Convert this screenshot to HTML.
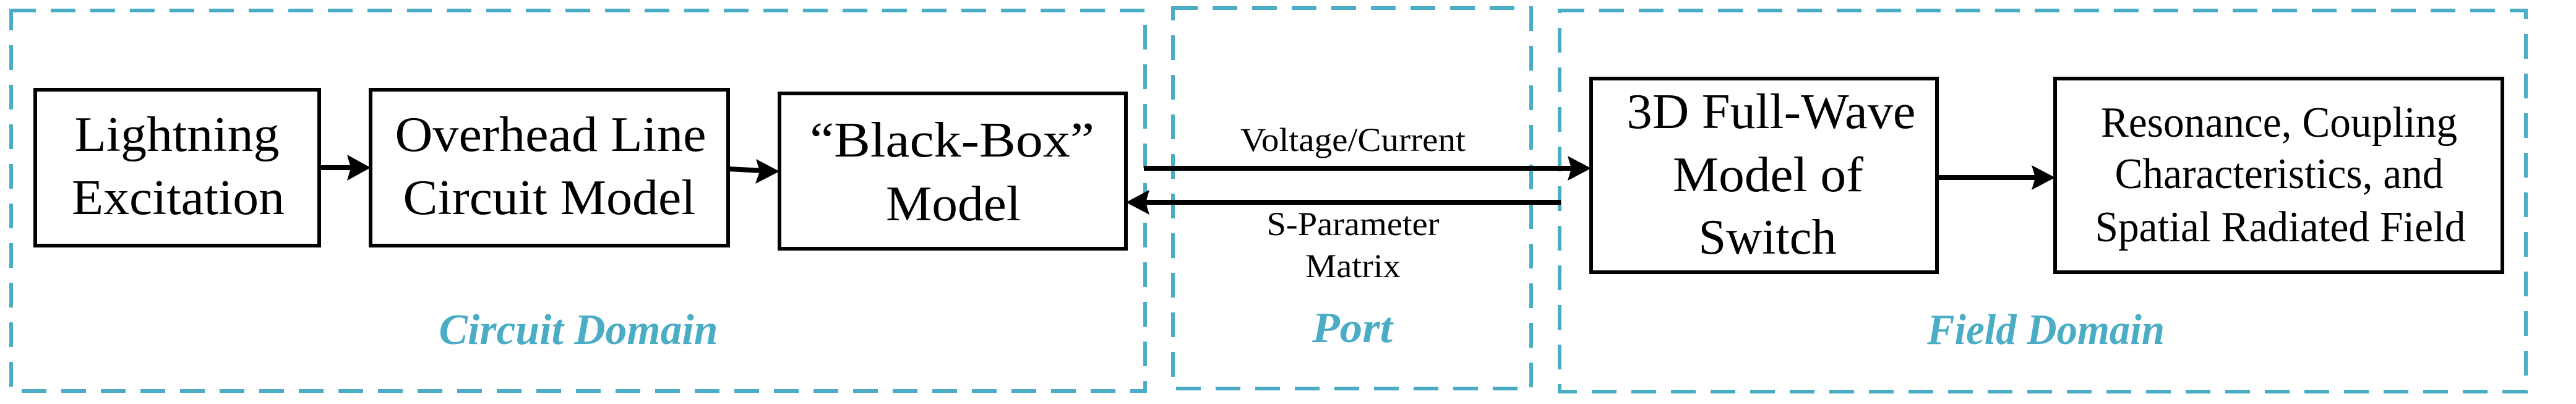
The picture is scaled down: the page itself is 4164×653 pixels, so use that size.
<!DOCTYPE html>
<html><head><meta charset="utf-8"><style>html,body{margin:0;padding:0;background:#fff}svg{display:block}svg text{font-family:"Liberation Serif","DejaVu Serif",serif}</style></head>
<body>
<svg width="4164" height="653" viewBox="0 0 4164 653" xmlns="http://www.w3.org/2000/svg">
<g fill="none" stroke="#4BACC6" stroke-width="6" stroke-dasharray="40 24">
<rect x="18" y="17" width="1833" height="615"/>
<rect x="1896" y="13" width="579" height="615"/>
<rect x="2521" y="17" width="1562" height="616"/>
</g>
<g fill="none" stroke="#000" stroke-width="6">
<rect x="57" y="145" width="459" height="252"/>
<rect x="599" y="145" width="578" height="252"/>
<rect x="1260" y="151" width="560" height="251"/>
<rect x="2572" y="127" width="559" height="313"/>
<rect x="3322" y="127" width="723" height="313"/>
</g>
<g stroke="#000" stroke-width="8" fill="#000">
<line x1="516" y1="271" x2="575" y2="271"/>
<polygon points="599,271 561,250 567,271 561,292" stroke="none"/>
<line x1="1177" y1="273" x2="1236" y2="276"/>
<polygon points="1260,277 1222,257 1228,277 1221,297" stroke="none"/>
<line x1="1849" y1="272" x2="2548" y2="272"/>
<polygon points="2572,272 2534,252 2540,272 2534,292" stroke="none"/>
<line x1="2523" y1="327" x2="1844" y2="327"/>
<polygon points="1820,327 1858,307 1852,327 1858,347" stroke="none"/>
<line x1="3131" y1="287" x2="3298" y2="287"/>
<polygon points="3322,287 3284,267 3290,287 3284,307" stroke="none"/>
</g>
<g fill="#000" font-size="80" text-anchor="middle">
<text x="286" y="244" textLength="331" lengthAdjust="spacingAndGlyphs">Lightning</text>
<text x="288" y="346" textLength="344" lengthAdjust="spacingAndGlyphs">Excitation</text>
<text x="890" y="244" textLength="503" lengthAdjust="spacingAndGlyphs">Overhead Line</text>
<text x="888" y="346" textLength="473" lengthAdjust="spacingAndGlyphs">Circuit Model</text>
<text x="1539" y="253" textLength="460" lengthAdjust="spacingAndGlyphs">“Black-Box”</text>
<text x="1541" y="356" textLength="218" lengthAdjust="spacingAndGlyphs">Model</text>
<text x="2863" y="207" textLength="467" lengthAdjust="spacingAndGlyphs">3D Full-Wave</text>
<text x="2858" y="309" textLength="308" lengthAdjust="spacingAndGlyphs">Model of</text>
<text x="2857" y="410" textLength="223" lengthAdjust="spacingAndGlyphs">Switch</text>
</g>
<g fill="#000" font-size="70" text-anchor="middle">
<text x="3684" y="221" textLength="576" lengthAdjust="spacingAndGlyphs">Resonance, Coupling</text>
<text x="3684" y="304" textLength="531" lengthAdjust="spacingAndGlyphs">Characteristics, and</text>
<text x="3686" y="390" textLength="599" lengthAdjust="spacingAndGlyphs">Spatial Radiated Field</text>
</g>
<g fill="#000" font-size="54" text-anchor="middle">
<text x="2187" y="244" textLength="364" lengthAdjust="spacingAndGlyphs">Voltage/Current</text>
<text x="2187" y="380" textLength="279" lengthAdjust="spacingAndGlyphs">S-Parameter</text>
<text x="2187" y="448" textLength="154" lengthAdjust="spacingAndGlyphs">Matrix</text>
</g>
<g fill="#4BACC6" font-size="70" font-style="italic" font-weight="bold" text-anchor="middle">
<text x="935" y="556" textLength="451" lengthAdjust="spacingAndGlyphs">Circuit Domain</text>
<text x="2186" y="553" textLength="130" lengthAdjust="spacingAndGlyphs">Port</text>
<text x="3307" y="556" textLength="384" lengthAdjust="spacingAndGlyphs">Field Domain</text>
</g>
</svg>
</body></html>
